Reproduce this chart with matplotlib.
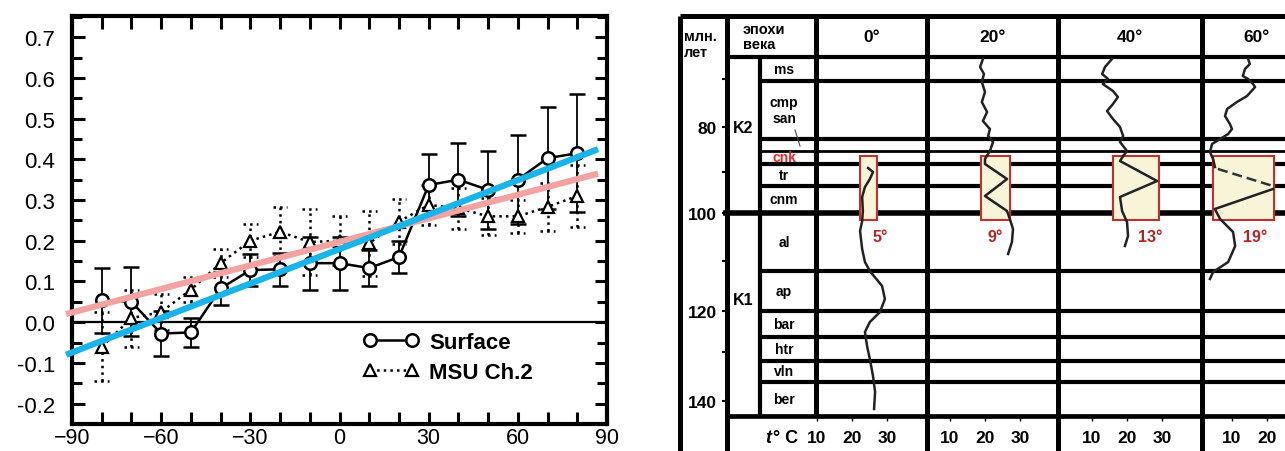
import matplotlib.pyplot as plt
from matplotlib.ticker import MultipleLocator, FuncFormatter
import numpy as np

plt.rcParams['font.family'] = ['Liberation Sans', 'DejaVu Sans']

# ---- left panel: zonal trend vs latitude ----
lat = [-80, -70, -60, -50, -40, -30, -20, -10, 0, 10, 20, 30, 40, 50, 60, 70, 80]
surface = [0.054, 0.05, -0.028, -0.025, 0.083, 0.128, 0.13, 0.145, 0.145, 0.133, 0.16,
           0.337, 0.35, 0.325, 0.35, 0.403, 0.415]
surface_err = [0.08, 0.085, 0.056, 0.035, 0.04, 0.04, 0.04, 0.065, 0.065, 0.045, 0.04,
               0.075, 0.09, 0.095, 0.11, 0.125, 0.145]
msu = [-0.06, 0.01, 0.025, 0.08, 0.145, 0.2, 0.222, 0.197, 0.2, 0.194, 0.247,
       0.288, 0.28, 0.26, 0.26, 0.283, 0.31]
msu_err = [0.085, 0.07, 0.045, 0.03, 0.035, 0.04, 0.06, 0.08, 0.06, 0.08, 0.055,
           0.05, 0.05, 0.045, 0.04, 0.06, 0.075]
trend_lat = [-92, 87]
trend_blue = [-0.08, 0.425]
trend_pink = [0.02, 0.365]

# ---- right panel: paleotemperature table ----
age_labels = ['80', '100', '120', '140']
age_y = [128, 214, 312, 402]
age_minor_y = [80, 173, 262, 353]
stages = ['ms', 'cmp\nsan', '', 'cnk', 'tr', 'cnm', 'al', 'ap', 'bar', 'htr', 'vln', 'ber']
stage_bounds = [58, 82, 140, 152, 165, 187, 214, 272, 312, 338, 362, 383, 417]
col_names = ['0°', '20°', '40°', '60°']
col_edges = [816, 927, 1058, 1202, 1310]
col_t0 = [782, 915, 1057, 1197]   # x where t = 0 C in each column
px_per_deg = 3.5
box_left = [860, 981, 1113, 1213]
box_right = [877, 1010, 1159, 1274]
box_top, box_bot = 157, 221
amp_labels = ['5°', '9°', '13°', '19°']
amp_x = [880, 995, 1150, 1255]

curve0_t = [24.6, 26.0, 25.1, 23.7, 22.9, 23.1, 22.9, 22.3, 22.9, 23.7, 25.1, 28.6, 29.4,
            28.0, 25.1, 23.7, 24.3, 25.1, 26.0, 26.6, 26.3]
curve0_y = [169, 173, 180, 188, 198, 212, 222, 232, 250, 263, 272, 287, 300,
            313, 323, 333, 347, 360, 377, 393, 410]
curve20_t = [19.4, 18.6, 19.7, 19.1, 20.0, 19.1, 20.6, 19.4, 21.4, 20.9, 22.3, 21.4, 20.0,
             20.0, 26.3, 20.0, 26.3, 27.1, 28.0, 27.7, 26.6]
curve20_y = [60, 68, 75, 83, 93, 103, 113, 122, 130, 137, 143, 152, 160,
             165, 180, 197, 212, 220, 230, 243, 255]
curve40_t = [15.7, 13.7, 12.9, 14.6, 13.1, 16.0, 17.4, 16.0, 14.3, 16.0, 18.0, 18.9, 18.0,
             20.0, 18.9, 18.0, 28.6, 18.0, 18.6, 20.0, 20.3, 19.4]
curve40_y = [60, 68, 75, 80, 85, 92, 98, 105, 112, 120, 128, 137, 143,
             152, 157, 162, 182, 198, 212, 223, 237, 247]
curve60_t = [14.6, 15.1, 13.7, 13.1, 14.6, 16.0, 16.6, 14.3, 11.4, 8.6, 8.0, 9.4, 10.0,
             8.9, 6.6, 4.3, 3.7, 4.6, 5.1]
curve60_y = [60, 65, 70, 77, 80, 85, 88, 97, 103, 110, 117, 125, 130,
             135, 140, 145, 153, 160, 168]
curve60_box_t = [21.7, 5.1, 6.6, 10.3, 10.9, 8.9, 4.6, 3.7]
curve60_box_y = [190, 210, 220, 233, 247, 263, 273, 280]
curve60_dash_t = [6.0, 21.7]
curve60_dash_y = [170, 187]
t_ticks = [10, 20, 30]

fig = plt.figure(figsize=(12.85, 4.52), dpi=100)

ax = fig.add_axes([72 / 1285, 27 / 452, 535 / 1285, 408 / 452])
ax.set_xlim(-90, 90)
ax.set_ylim(-0.25, 0.752)
ax.axhline(0, color='black', lw=1.6, zorder=1)

s = ax.errorbar(lat, surface, yerr=surface_err, fmt='-o', color='black', lw=1.8, ms=9,
                mfc='white', mew=1.8, capsize=6, elinewidth=1.3, capthick=1.3, zorder=3)
m = ax.errorbar(lat, msu, yerr=msu_err, fmt=':^', color='black', lw=1.8, ms=9,
                mfc='white', mew=1.6, capsize=0, elinewidth=1.8, zorder=3)
m[2][0].set_linestyle(':')
lat_a = np.array(lat)
msu_a = np.array(msu)
err_a = np.array(msu_err)
for cap_y in (msu_a + err_a, msu_a - err_a):
    ax.hlines(cap_y, lat_a - 2.5, lat_a + 2.5, colors='black', linestyles=':', lw=1.8, zorder=3)

ax.plot(trend_lat, trend_pink, color='#f4a3a3', lw=4.5, solid_capstyle='butt', clip_on=False, zorder=4)
ax.plot(trend_lat, trend_blue, color='#18b4ea', lw=4.5, solid_capstyle='butt', clip_on=False, zorder=5)

ax.xaxis.set_major_locator(MultipleLocator(30))
ax.xaxis.set_minor_locator(MultipleLocator(10))
ax.yaxis.set_major_locator(MultipleLocator(0.1))
ax.yaxis.set_minor_locator(MultipleLocator(0.05))
ax.yaxis.set_major_formatter(FuncFormatter(lambda v, p: '%.1f' % v if abs(v) > 1e-9 else '0.0'))
ax.tick_params(which='both', direction='in', top=True, right=True, width=2.2, labelsize=16)
ax.tick_params(which='major', length=9)
ax.tick_params(axis='y', which='minor', length=7)
ax.tick_params(axis='x', which='minor', length=9)
ax.tick_params(axis='y', pad=12)
ax.tick_params(axis='x', pad=2, labelsize=15.5)
for sp in ax.spines.values():
    sp.set_linewidth(3)

ax.legend([s[0], m[0]], ['Surface', 'MSU Ch.2'], loc='upper left', bbox_to_anchor=(0.545, 0.225),
          frameon=False, numpoints=2, handlelength=2.5, handletextpad=0.45, labelspacing=0.4,
          borderpad=0, borderaxespad=0, prop={'weight': 'bold', 'size': 16})

# ---- right panel ----
ax2 = fig.add_axes([676 / 1285, 0, 609 / 1285, 1])
ax2.set_xlim(676, 1285)
ax2.set_ylim(452, 0)
ax2.axis('off')

k = 'black'
ax2.hlines(17, 680, 1285, color=k, lw=3.6)
ax2.vlines([680, 727], 17, 452, color=k, lw=3.6)
ax2.vlines(760, 58, 417, color=k, lw=3.0)
ax2.vlines(col_edges[0], 17, 417, color=k, lw=3.6)
ax2.vlines(col_edges[1:4], 17, 452, color=k, lw=3.6)
ax2.hlines(58, 727, 1285, color=k, lw=3.0)
ax2.hlines(417, 727, 1285, color=k, lw=3.4)
for b in stage_bounds[1:-1]:
    if b == 214:
        ax2.hlines(b, 723, 1285, color=k, lw=4.0)
    elif b == 152:
        ax2.hlines(b, 760, 1285, color=k, lw=2.0)
    else:
        ax2.hlines(b, 760, 1285, color=k, lw=3.0)

ax2.hlines(age_y + age_minor_y, 722, 727, color=k, lw=1.5)
for lab, y in zip(age_labels, age_y):
    ax2.text(717, y + 2, lab, ha='right', va='center', fontsize=12.5, fontweight='bold')
ax2.text(684, 37, 'млн.', ha='left', va='center', fontsize=10.5, fontweight='bold')
ax2.text(684, 53, 'лет', ha='left', va='center', fontsize=10.5, fontweight='bold')
ax2.text(743, 30, 'эпохи', ha='left', va='center', fontsize=10.5, fontweight='bold')
ax2.text(743, 45, 'века', ha='left', va='center', fontsize=10.5, fontweight='bold')
ax2.text(743, 129, 'K2', ha='center', va='center', fontsize=11.5, fontweight='bold')
ax2.text(743, 301, 'K1', ha='center', va='center', fontsize=11.5, fontweight='bold')

for i, name in enumerate(stages):
    yc = (stage_bounds[i] + stage_bounds[i + 1]) / 2
    col = '#e02828' if name == 'cnk' else 'black'
    ax2.text(784, yc, name, ha='center', va='center', fontsize=10, fontweight='bold',
             color=col, linespacing=1.1)
ax2.plot([795, 800], [131, 147], color='#444', lw=0.8)

for i, name in enumerate(col_names):
    ax2.text((col_edges[i] + col_edges[i + 1]) / 2, 38, name, ha='center', va='center',
             fontsize=12.5, fontweight='bold')
    for t in t_ticks:
        x = col_t0[i] + t * px_per_deg
        if x > 1280:
            continue  # falls past the right edge of the picture
        ax2.text(x, 439, str(t), ha='center', va='center', fontsize=12.5, fontweight='bold')
        ax2.vlines(x, 417, 422, color=k, lw=1.0)
ax2.text(768, 439, 't', ha='center', va='center', fontsize=13, fontweight='bold', style='italic')
ax2.text(773, 439, '° C', ha='left', va='center', fontsize=13, fontweight='bold')

for i in range(4):
    ax2.add_patch(plt.Rectangle((box_left[i], box_top), box_right[i] - box_left[i], box_bot - box_top,
                                facecolor='#f7f4d8', edgecolor='#c0302c', lw=1.5, zorder=2))
    ax2.text(amp_x[i], 238, amp_labels[i], ha='center', va='center', fontsize=11.5,
             fontweight='bold', color='#b52424')

curves = [(0, curve0_t, curve0_y), (1, curve20_t, curve20_y), (2, curve40_t, curve40_y),
          (3, curve60_t, curve60_y), (3, curve60_box_t, curve60_box_y)]
for i, tt, yy in curves:
    xx = col_t0[i] + np.array(tt) * px_per_deg
    ax2.plot(xx, yy, color='#222222', lw=1.8, zorder=3)
ax2.plot(col_t0[3] + np.array(curve60_dash_t) * px_per_deg, curve60_dash_y, color='#333333',
         lw=1.8, ls=(0, (4, 2)), zorder=3)

fig.savefig('out.png', dpi=100)
